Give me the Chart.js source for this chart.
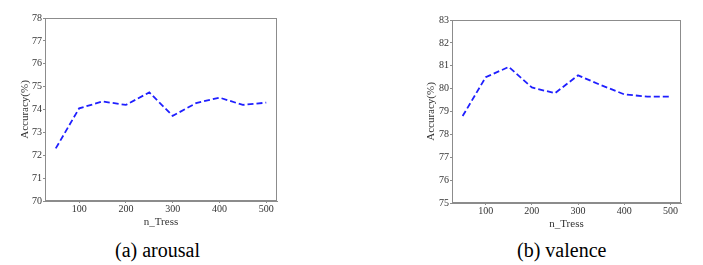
<!DOCTYPE html>
<html>
<head>
<meta charset="utf-8">
<script src="https://cdn.jsdelivr.net/npm/chart.js@4"></script>
<style>
  body { margin: 0; background: #fff; width: 703px; height: 265px; position: relative; overflow: hidden; }
  .box { position: absolute; }
  .cap { position: absolute; font-family: "Liberation Serif", "DejaVu Serif", serif; font-size: 20px; color: #000; top: 237px; line-height: 26px; }
</style>
</head>
<body>
<div class="box" style="left:19px;top:0;width:263px;height:229px"><canvas id="chartA"></canvas></div>
<div class="box" style="left:425px;top:0;width:261px;height:231px"><canvas id="chartB"></canvas></div>
<div class="cap" style="left:115px">(a) arousal</div>
<div class="cap" style="left:517px">(b) valence</div>
<script>
// n_estimators tested
const nTrees = [50, 100, 150, 200, 250, 300, 350, 400, 450, 500];
const arousalAcc = [72.3, 74.05, 74.35, 74.2, 74.75, 73.72, 74.28, 74.52, 74.2, 74.3];
const valenceAcc = [78.8, 80.5, 80.95, 80.05, 79.8, 80.58, 80.15, 79.75, 79.65, 79.65];
const xTicks = [100, 200, 300, 400, 500];
const arousalTicks = [70, 71, 72, 73, 74, 75, 76, 77, 78];
const valenceTicks = [75, 76, 77, 78, 79, 80, 81, 82, 83];

const serif = "'Liberation Serif', 'DejaVu Serif', serif";

// matplotlib style frame on all four sides
const framePlugin = {
    id: 'frame',
    afterDraw(chart) {
        const a = chart.chartArea, ctx = chart.ctx;
        ctx.save();
        ctx.strokeStyle = '#8c8c8c';
        ctx.lineWidth = 1;
        ctx.strokeRect(a.left + 0.5, a.top + 0.5, a.right - a.left - 1, a.bottom - a.top - 1);
        ctx.restore();
    }
};

function makeChart(id, values, yTicks, opt) {
    const ctx = document.getElementById(id).getContext('2d');
    return new Chart(ctx, {
        type: 'line',
        data: {
            datasets: [{
                data: nTrees.map((n, i) => ({ x: n, y: values[i] })),
                borderColor: '#1f1fff',
                borderWidth: 1.8,
                borderDash: [6, 3],
                pointRadius: 0,
                tension: 0,
                fill: false
            }]
        },
        options: {
            responsive: true,
            maintainAspectRatio: false,
            animation: false,
            layout: { padding: { top: opt.top, right: 5, left: 0, bottom: 0 } },
            plugins: { legend: { display: false }, tooltip: { enabled: false } },
            scales: {
                x: {
                    type: 'linear',
                    min: 27, max: 523,
                    afterBuildTicks: s => { s.ticks = xTicks.map(v => ({ value: v })); },
                    afterFit: s => { s.height = 28; },
                    grid: { drawOnChartArea: false, drawTicks: true, tickLength: 2, color: '#8c8c8c' },
                    border: { color: '#8c8c8c' },
                    ticks: { color: '#333', font: { family: serif, size: 10 }, padding: 0, maxRotation: 0 },
                    title: { display: true, text: 'n_Tress', color: '#333', font: { family: serif, size: 11 }, padding: 0 }
                },
                y: {
                    min: yTicks[0], max: yTicks[yTicks.length - 1],
                    afterBuildTicks: s => { s.ticks = yTicks.map(v => ({ value: v })); },
                    afterFit: s => { s.width = opt.yw; },
                    grid: { drawOnChartArea: false, drawTicks: true, tickLength: 2, color: '#8c8c8c' },
                    border: { color: '#8c8c8c' },
                    ticks: { color: '#333', font: { family: serif, size: 10 }, padding: 1 },
                    title: { display: true, text: 'Accuracy(%)', color: '#333', font: { family: serif, size: 11 }, padding: 0 }
                }
            }
        },
        plugins: [framePlugin]
    });
}

makeChart('chartA', arousalAcc, arousalTicks, { top: 18, yw: 26 });
makeChart('chartB', valenceAcc, valenceTicks, { top: 20, yw: 27 });
</script>
</body>
</html>
